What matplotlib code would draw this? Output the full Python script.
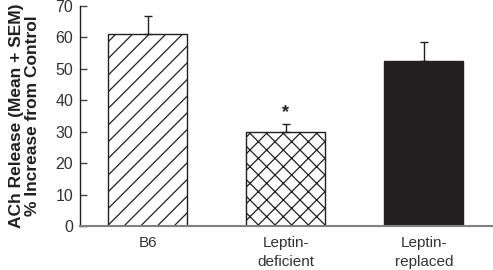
import matplotlib
matplotlib.use("Agg")
import matplotlib.pyplot as plt

categories = ["B6", "Leptin-\ndeficient", "Leptin-\nreplaced"]
means = [61.2, 30.0, 52.6]
sems = [5.5, 2.5, 6.0]
hatches = ["//", "xx", None]
fills = ["white", "white", "#231f20"]
yticks = [0, 10, 20, 30, 40, 50, 60, 70]

plt.rcParams['font.family'] = ['Liberation Sans', 'DejaVu Sans']
plt.rcParams['hatch.linewidth'] = 0.9

fig = plt.figure(figsize=(4.93, 2.70), dpi=100)
ax = fig.add_axes([80/493, 1-226/270, 1-80/493, 220/270])

x = list(range(len(categories)))
for i in x:
    ax.bar(i, means[i], width=0.572, color=fills[i], edgecolor="#231f20",
           hatch=hatches[i], linewidth=1.0, zorder=2)
    ax.errorbar(i, means[i], yerr=[[0], [sems[i]]], fmt="none", ecolor="#231f20",
                elinewidth=1.0, capsize=3, capthick=1.0, zorder=3)

ax.text(1, means[1] + sems[1] + 1.0, "*", ha="center", va="bottom", fontsize=13,
        fontweight="bold", color="#231f20")

ax.set_xlim(-0.489, 2.5)
ax.set_ylim(0, 70)
ax.set_yticks(yticks)
ax.set_xticks(x)
ax.set_xticklabels(categories, fontsize=11, color="#333333", linespacing=1.45)
ax.tick_params(axis="x", length=0, pad=7)
ax.tick_params(axis="y", direction="in", length=5, width=1, color="#444444",
               labelsize=11.5, labelcolor="#333333", pad=5)
for s in ["top", "right"]:
    ax.spines[s].set_visible(False)
ax.spines["left"].set_color("#231f20")
ax.spines["bottom"].set_color("#808080")
ax.spines["left"].set_linewidth(1.0)
ax.spines["bottom"].set_linewidth(1.5)
ax.spines["bottom"].set_zorder(3)

ax.set_ylabel("ACh Release (Mean + SEM)\n% Increase from Control", fontsize=12.5,
              fontweight="bold", color="#231f20", linespacing=1.05)
ax.yaxis.set_label_coords(-0.097, 0.5)

fig.savefig("out.png", dpi=100)
